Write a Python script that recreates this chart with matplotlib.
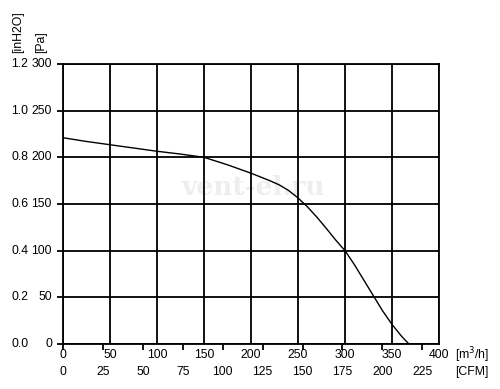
import matplotlib
matplotlib.use("Agg")
import matplotlib.pyplot as plt
import matplotlib.transforms as mtransforms

plt.rcParams['font.family'] = ['Liberation Sans', 'DejaVu Sans']

# Data
flow_m3h = [0, 25, 50, 75, 100, 125, 150, 175, 200, 220, 230, 240, 250, 260, 270, 280,
            290, 300, 310, 320, 330, 340, 350, 360, 368]
pressure_pa = [221, 217, 213.5, 210, 206.5, 203.5, 200, 192, 183, 175, 170.5, 164.5, 156.5, 147, 136, 124,
               111.5, 100, 85, 68.5, 52, 35.5, 21, 8.5, 0]

m3h_ticks = [0, 50, 100, 150, 200, 250, 300, 350, 400]
cfm_ticks = [0, 25, 50, 75, 100, 125, 150, 175, 200, 225]
pa_ticks = [0, 50, 100, 150, 200, 250, 300]
inh2o_labels = ["0.0", "0.2", "0.4", "0.6", "0.8", "1.0", "1.2"]
CFM_TO_M3H = 1.699

fig = plt.figure(figsize=(5.0, 3.89), dpi=100)
ax = fig.add_axes([63/500, 1-344/389, 376/500, 280/389])
ax.set_xlim(0, 400)
ax.set_ylim(0, 300)

# grid
for x in m3h_ticks:
    ax.axvline(x, color='black', lw=1.3, zorder=1)
for y in pa_ticks:
    ax.axhline(y, color='black', lw=1.3, zorder=1)
for s in ax.spines.values():
    s.set_linewidth(1.3)

# watermark
ax.text(0.505, 0.56, "vent-el.ru", transform=ax.transAxes, ha='center', va='center',
        fontsize=19, fontweight='bold', family='DejaVu Serif', color='#eeeeee', zorder=0)

# curve
ax.plot(flow_m3h, pressure_pa, color='black', lw=1.0, zorder=3, solid_joinstyle='round')

# ticks
ax.set_yticks(pa_ticks)
ax.set_yticklabels([])
ax.tick_params(axis='y', direction='out', length=4.5, width=1.3)
cfm_pos = [c * CFM_TO_M3H for c in cfm_ticks]
ax.set_xticks(cfm_pos)
ax.set_xticklabels([])
ax.tick_params(axis='x', direction='out', length=4, width=1.3)

fs = 8.8
# y labels: Pa and inH2O columns
tr_y = mtransforms.blended_transform_factory(fig.transFigure, ax.transData)
for p, lab in zip(pa_ticks, inh2o_labels):
    ax.text(52/500, p, str(p), transform=tr_y, ha='right', va='center', fontsize=fs)
    ax.text(20/500, p, lab, transform=tr_y, ha='center', va='center', fontsize=fs)

fig.text(18.5/500, 1-53/389, "[inH2O]", rotation=90, ha='center', va='bottom', fontsize=fs)
fig.text(41/500, 1-53/389, "[Pa]", rotation=90, ha='center', va='bottom', fontsize=fs)

# x labels
tr_x = mtransforms.blended_transform_factory(ax.transData, fig.transFigure)
for m in m3h_ticks:
    ax.text(m, 1-355/389, str(m), transform=tr_x, ha='center', va='center', fontsize=fs)
for c, p in zip(cfm_ticks, cfm_pos):
    ax.text(p, 1-372/389, str(c), transform=tr_x, ha='center', va='center', fontsize=fs)

fig.text(455/500, 1-355/389, "[m$^3$/h]", ha='left', va='center', fontsize=fs)
fig.text(455/500, 1-372/389, "[CFM]", ha='left', va='center', fontsize=fs)

fig.savefig("out.png", dpi=100)
